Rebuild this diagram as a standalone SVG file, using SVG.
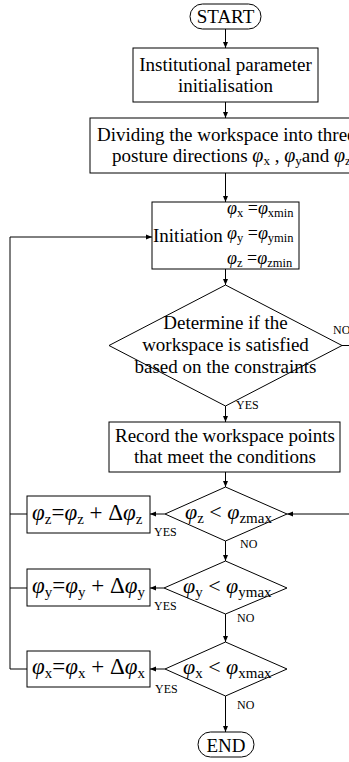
<svg xmlns="http://www.w3.org/2000/svg" width="349" height="762" viewBox="0 0 349 762">
<style>
text{font-family:"Liberation Serif","Times New Roman",serif;fill:#000}
.t{font-size:19px}
.c{text-anchor:middle}
.lb{font-size:12px}
.i{font-style:italic}
.box{fill:#fff;stroke:#000;stroke-width:1}
.ln{fill:none;stroke:#000;stroke-width:1}
.e1{font-size:23px}
.e1 .sb{font-size:15px}
.e2{font-size:22px}
.e2 .sb{font-size:15px}
.e3{font-size:18px}
.e3 .sb{font-size:12.5px}
.e4 .sb{font-size:13px}
.e4 .g{font-size:20px}
</style>
<defs>
<marker id="ah" markerUnits="userSpaceOnUse" markerWidth="6" markerHeight="6" refX="6" refY="3" orient="auto">
<path d="M0,0.5 L6,3 L0,5.5 z" fill="#000"/>
</marker>
</defs>
<g id="connectors">
<path class="ln" d="M225.5,29 V48" marker-end="url(#ah)"/>
<path class="ln" d="M225.5,102 V118" marker-end="url(#ah)"/>
<path class="ln" d="M225.5,173 V202" marker-end="url(#ah)"/>
<path class="ln" d="M225.5,269 V285" marker-end="url(#ah)"/>
<path class="ln" d="M225.5,406 V422" marker-end="url(#ah)"/>
<path class="ln" d="M225.5,472 V487" marker-end="url(#ah)"/>
<path class="ln" d="M225.5,541 V561" marker-end="url(#ah)"/>
<path class="ln" d="M225.5,614 V642" marker-end="url(#ah)"/>
<path class="ln" d="M225.5,696 V732" marker-end="url(#ah)"/>
<path class="ln" d="M165,514 H150" marker-end="url(#ah)"/>
<path class="ln" d="M164,588 H150" marker-end="url(#ah)"/>
<path class="ln" d="M165,669 H150" marker-end="url(#ah)"/>
<path class="ln" d="M27,514 H10"/>
<path class="ln" d="M27,588 H10"/>
<path class="ln" d="M27,669 H10 V237 H152" marker-end="url(#ah)"/>
<path class="ln" d="M342,345.5 H356 V514 H287" marker-end="url(#ah)"/>
</g>
<g id="start">
<rect class="box" x="190" y="4" width="71" height="25" rx="12.5"/>
<text class="t c" x="225.5" y="22.5">START</text>
</g>
<g id="init-params">
<rect class="box" x="133" y="48" width="185" height="54"/>
<text class="t c" x="225.5" y="71">Institutional parameter</text>
<text class="t c" x="225.5" y="92">initialisation</text>
</g>
<g id="divide">
<rect class="box" x="90" y="118" width="272" height="55"/>
<text class="t" x="97" y="141">Dividing the workspace into three</text>
<text class="t e4" x="112" y="162">posture directions <tspan class="i g">φ</tspan><tspan class="sb" dy="3">x</tspan><tspan dy="-3"> , </tspan><tspan class="i g">φ</tspan><tspan class="sb" dy="3">y</tspan><tspan dy="-3">and </tspan><tspan class="i g">φ</tspan><tspan class="sb" dy="3">z</tspan></text>
</g>
<g id="initiation">
<rect class="box" x="152" y="202" width="147" height="67"/>
<text class="t" x="153" y="242">Initiation</text>
<text class="e3" x="227" y="214"><tspan class="i">φ</tspan><tspan class="sb" dy="3">x</tspan><tspan dy="-3"> =</tspan><tspan class="i">φ</tspan><tspan class="sb" dy="3">xmin</tspan></text>
<text class="e3" x="227" y="239"><tspan class="i">φ</tspan><tspan class="sb" dy="3">y</tspan><tspan dy="-3"> =</tspan><tspan class="i">φ</tspan><tspan class="sb" dy="3">ymin</tspan></text>
<text class="e3" x="227" y="264"><tspan class="i">φ</tspan><tspan class="sb" dy="3">z</tspan><tspan dy="-3"> =</tspan><tspan class="i">φ</tspan><tspan class="sb" dy="3">zmin</tspan></text>
</g>
<g id="check-constraints">
<polygon class="box" points="225.5,285 342,345.5 225.5,406 109,345.5"/>
<text class="t c" x="225.5" y="329">Determine if the</text>
<text class="t c" x="225.5" y="351">workspace is satisfied</text>
<text class="t c" x="225.5" y="373">based on the constraints</text>
<text class="lb" x="333" y="334">NO</text>
<text class="lb" x="236" y="409">YES</text>
</g>
<g id="record">
<rect class="box" x="109" y="422" width="231" height="50"/>
<text class="t c" x="225" y="442">Record the workspace points</text>
<text class="t c" x="225" y="463">that meet the conditions</text>
</g>
<g id="check-z">
<polygon class="box" points="225.5,487 287,514 225.5,541 165,514"/>
<text class="e2" x="185" y="519"><tspan class="i">φ</tspan><tspan class="sb" dy="4">z</tspan><tspan dy="-4"> &lt; </tspan><tspan class="i">φ</tspan><tspan class="sb" dy="4">zmax</tspan></text>
<text class="lb" x="154" y="536">YES</text>
<text class="lb" x="240" y="548">NO</text>
</g>
<g id="inc-z">
<rect class="box" x="27" y="496" width="123" height="37"/>
<text class="e1" x="32" y="520"><tspan class="i">φ</tspan><tspan class="sb" dy="4">z</tspan><tspan dy="-4">=</tspan><tspan class="i">φ</tspan><tspan class="sb" dy="4">z</tspan><tspan dy="-4"> + Δ</tspan><tspan class="i">φ</tspan><tspan class="sb" dy="4">z</tspan></text>
</g>
<g id="check-y">
<polygon class="box" points="225.5,561 287,588 225.5,614 164,588"/>
<text class="e2" x="183" y="593"><tspan class="i">φ</tspan><tspan class="sb" dy="4">y</tspan><tspan dy="-4"> &lt; </tspan><tspan class="i">φ</tspan><tspan class="sb" dy="4">ymax</tspan></text>
<text class="lb" x="154" y="610">YES</text>
<text class="lb" x="237" y="622">NO</text>
</g>
<g id="inc-y">
<rect class="box" x="27" y="569" width="123" height="37"/>
<text class="e1" x="32" y="593"><tspan class="i">φ</tspan><tspan class="sb" dy="4">y</tspan><tspan dy="-4">=</tspan><tspan class="i">φ</tspan><tspan class="sb" dy="4">y</tspan><tspan dy="-4"> + Δ</tspan><tspan class="i">φ</tspan><tspan class="sb" dy="4">y</tspan></text>
</g>
<g id="check-x">
<polygon class="box" points="225.5,642 287,669 225.5,696 165,669"/>
<text class="e2" x="183" y="674"><tspan class="i">φ</tspan><tspan class="sb" dy="4">x</tspan><tspan dy="-4"> &lt; </tspan><tspan class="i">φ</tspan><tspan class="sb" dy="4">xmax</tspan></text>
<text class="lb" x="155" y="693">YES</text>
<text class="lb" x="237" y="709">NO</text>
</g>
<g id="inc-x">
<rect class="box" x="27" y="651" width="123" height="36"/>
<text class="e1" x="32" y="674"><tspan class="i">φ</tspan><tspan class="sb" dy="4">x</tspan><tspan dy="-4">=</tspan><tspan class="i">φ</tspan><tspan class="sb" dy="4">x</tspan><tspan dy="-4"> + Δ</tspan><tspan class="i">φ</tspan><tspan class="sb" dy="4">x</tspan></text>
</g>
<g id="end">
<rect class="box" x="198" y="732" width="56" height="25" rx="12.5"/>
<text class="t c" x="226" y="751.5">END</text>
</g>
</svg>
